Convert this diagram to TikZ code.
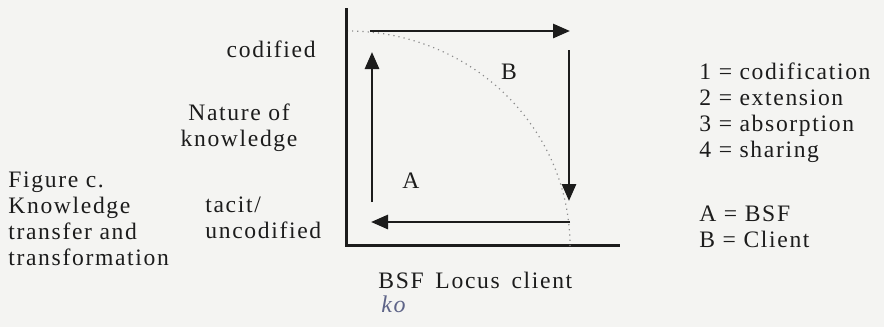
\documentclass[tikz,border=0pt]{standalone}
\usepackage{fontspec}
\setmainfont[LetterSpace=7]{Liberation Serif}
\usepackage{tikz}
\usetikzlibrary{arrows.meta,positioning}
\definecolor{ink}{HTML}{1C1C1C}
\definecolor{paper}{HTML}{F4F4F2}
\definecolor{dots}{HTML}{8C8C8C}
\definecolor{pencil}{HTML}{5E6488}
\tikzset{
  >={Triangle[length=8.5pt,width=7pt]},
  lab/.style={font=\fontsize{11.8}{13}\selectfont,text=ink,inner sep=0pt,align=left},
  axis/.style={draw=ink,line width=1.5pt},
  arr/.style={->,draw=ink,line width=1.4pt},
  locus/.style={draw=dots,line width=0.6pt,dotted},
}

\begin{document}
\begin{tikzpicture}[x=0.5pt,y=-0.5pt]
\fill[paper] (0,0) rectangle (884,327);
\useasboundingbox (0,0) rectangle (884,327);
% axes
\coordinate (top) at (346,8);
\coordinate (o) at (346,245);
\coordinate (right) at (620,245);
\draw[axis] (top) -- (o) -- (right);
% locus line between the two parties
\draw[locus] plot[domain=0:90,samples=60,smooth] ({348+222*cos(\x)},{246-215*sin(\x)});
% the four moves
\coordinate (c1) at (370,31);  \coordinate (c2) at (570,31);
\coordinate (c3) at (569,50);  \coordinate (c4) at (569,201);
\coordinate (c5) at (570,222); \coordinate (c6) at (371,222);
\coordinate (c7) at (372,202); \coordinate (c8) at (372,52);
\draw[arr] (c1) -- (c2);
\draw[arr] (c3) -- (c4);
\draw[arr] (c5) -- (c6);
\draw[arr] (c7) -- (c8);
\node[lab] (zb) at (509,72) {B};
\node[lab] (za) at (411,181) {A};
% vertical axis labels
\node[lab,anchor=base east] (cod) at (316,57) {codified};
\node[lab,anchor=north,align=center] (nat) at (239,103) {Nature of\\knowledge};
\node[lab,anchor=north west] (tac) at (205,196) {tacit/\\uncodified};
% horizontal axis label
\node[lab,anchor=base west] (loc) at (378,288) {BSF\enspace Locus\enspace client};
\node[font=\fontsize{12}{12}\selectfont\itshape,text=pencil,inner sep=0pt,anchor=north west] (ko) at (381,295) {ko};
% caption
\node[lab,anchor=north west] (cap) at (8,171) {Figure c.\\Knowledge\\transfer and\\transformation};
% key
\node[lab,anchor=north west] (key) at (699,62) {1 = codification\\2 = extension\\3 = absorption\\4 = sharing};
\node[lab,anchor=north west] (who) at (699,205) {A = BSF\\B = Client};
\end{tikzpicture}
\end{document}
